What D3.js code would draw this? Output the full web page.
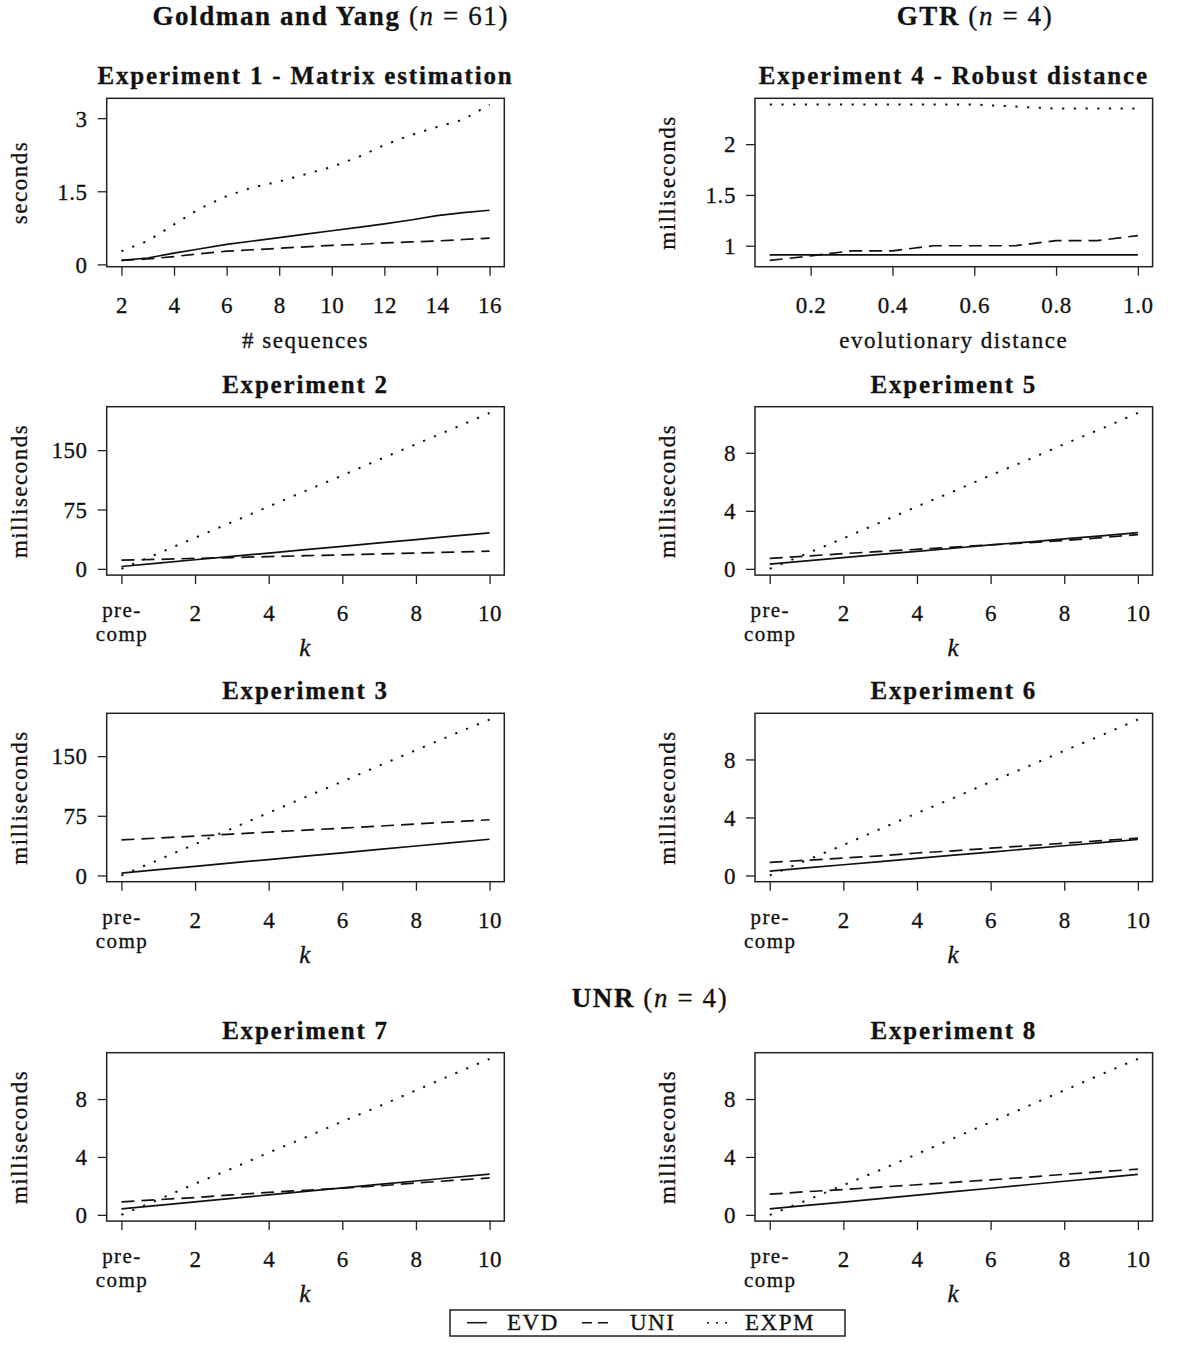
<!doctype html>
<html>
<head>
<meta charset="utf-8">
<title>Timing experiments</title>
<script src="https://cdn.jsdelivr.net/npm/d3@7"></script>
<style>
  body { margin: 0; background: #fff; }
  svg text { font-family: "Liberation Serif", "Times New Roman", serif; fill: #111; stroke: #111; stroke-width: 0.3px; }
</style>
</head>
<body>
<svg id="chart" width="1200" height="1349"></svg>
<script>
// ---- data ----
const seqCounts = [2, 3, 4, 5, 6, 7, 8, 9, 10, 11, 12, 13, 14, 15, 16];
const exp1Evd  = [0.08, 0.13, 0.23, 0.32, 0.41, 0.48, 0.55, 0.62, 0.69, 0.76, 0.83, 0.91, 1.0, 1.06, 1.11];
const exp1Uni  = [0.08, 0.11, 0.16, 0.22, 0.27, 0.30, 0.33, 0.36, 0.39, 0.41, 0.44, 0.46, 0.48, 0.51, 0.54];
const exp1Expm = [0.27, 0.48, 0.82, 1.15, 1.40, 1.58, 1.70, 1.85, 2.0, 2.2, 2.45, 2.65, 2.82, 2.97, 3.28];

const distances = [0.1, 0.2, 0.3, 0.4, 0.5, 0.6, 0.7, 0.8, 0.9, 1.0];
const exp4Evd  = [0.91, 0.91, 0.91, 0.91, 0.91, 0.91, 0.91, 0.91, 0.91, 0.91];
const exp4Uni  = [0.855, 0.90, 0.95, 0.95, 1.0, 1.0, 1.0, 1.05, 1.05, 1.10];
const exp4Expm = [2.39, 2.39, 2.39, 2.39, 2.39, 2.39, 2.37, 2.35, 2.35, 2.35];

// k = 0 is the pre-computation step
const kSteps = [0, 1, 2, 3, 4, 5, 6, 7, 8, 9, 10];
const exp2Evd  = [3, 7.3, 11.5, 15.8, 20, 24.3, 28.5, 32.8, 37, 41.3, 45.5];
const exp2Uni  = [11, 12, 13.2, 14.3, 15.5, 16.6, 17.7, 18.9, 20, 21.2, 22.3];
const exp2Expm = [0, 19.5, 39.3, 59, 78.8, 98.5, 118, 138, 157.5, 177, 197];

const exp3Evd  = [3, 7.3, 11.5, 15.8, 20, 24.3, 28.5, 32.8, 37, 41.3, 45.5];
const exp3Uni  = [44.7, 47, 49.5, 52, 54.5, 57, 59.5, 62, 64.8, 67.4, 70];
const exp3Expm = [0, 19.5, 39.3, 59, 78.8, 98.5, 118, 138, 157.5, 177, 196];

const exp5Evd  = [0.32, 0.55, 0.77, 1.0, 1.2, 1.42, 1.65, 1.85, 2.07, 2.28, 2.5];
const exp5Uni  = [0.72, 0.88, 1.05, 1.2, 1.35, 1.5, 1.65, 1.8, 1.95, 2.15, 2.36];
const exp5Expm = [0, 1.05, 2.1, 3.2, 4.3, 5.35, 6.45, 7.5, 8.6, 9.65, 10.75];

const exp6Evd  = [0.3, 0.52, 0.74, 0.96, 1.18, 1.4, 1.61, 1.83, 2.05, 2.27, 2.48];
const exp6Uni  = [0.9, 1.05, 1.2, 1.35, 1.55, 1.7, 1.88, 2.05, 2.22, 2.4, 2.57];
const exp6Expm = [0, 1.05, 2.1, 3.2, 4.3, 5.35, 6.45, 7.5, 8.6, 9.65, 10.75];

const exp7Evd  = [0.42, 0.66, 0.9, 1.14, 1.38, 1.62, 1.86, 2.1, 2.34, 2.58, 2.82];
const exp7Uni  = [0.9, 1.05, 1.2, 1.38, 1.55, 1.7, 1.85, 2.0, 2.2, 2.38, 2.55];
const exp7Expm = [0, 1.05, 2.15, 3.2, 4.3, 5.35, 6.45, 7.5, 8.6, 9.7, 10.77];

const exp8Evd  = [0.42, 0.65, 0.88, 1.12, 1.36, 1.6, 1.84, 2.08, 2.32, 2.56, 2.8];
const exp8Uni  = [1.43, 1.6, 1.75, 1.92, 2.08, 2.25, 2.42, 2.6, 2.8, 2.98, 3.16];
const exp8Expm = [0, 1.0, 2.05, 3.1, 4.2, 5.3, 6.4, 7.5, 8.6, 9.7, 10.77];

// tick labels
const exp1XTicks = [2, 4, 6, 8, 10, 12, 14, 16];
const exp1YTicks = [0, 1.5, 3];
const exp4XTicks = [0.2, 0.4, 0.6, 0.8, 1.0];
const exp4YTicks = [1, 1.5, 2];
const kTicks = [0, 2, 4, 6, 8, 10];
const bigMsTicks = [0, 75, 150];
const smallMsTicks = [0, 4, 8];

const seriesNames = ["EVD", "UNI", "EXPM"];

// ---- layout ----
const colX = [106.7, 755];
const rowY = [98.3, 406.7, 713.3, 1052.7];
const W = 397.6, H = 168.4;
const dashes = { EVD: null, UNI: "13,7", EXPM: "2.2,9.5" };
const widths = { EVD: 1.7, UNI: 1.7, EXPM: 2 };

const panels = [
  { title: "Experiment 1 - Matrix estimation", col: 0, row: 0, x: seqCounts, ys: [exp1Evd, exp1Uni, exp1Expm],
    xTicks: exp1XTicks, yTicks: exp1YTicks, xLabel: "# sequences", yLabel: "seconds", xFmt: d => d },
  { title: "Experiment 4 - Robust distance", col: 1, row: 0, x: distances, ys: [exp4Evd, exp4Uni, exp4Expm],
    xTicks: exp4XTicks, yTicks: exp4YTicks, xLabel: "evolutionary distance", yLabel: "milliseconds", xFmt: d3.format(".1f") },
  { title: "Experiment 2", col: 0, row: 1, x: kSteps, ys: [exp2Evd, exp2Uni, exp2Expm],
    xTicks: kTicks, yTicks: bigMsTicks, xLabel: "k", yLabel: "milliseconds" },
  { title: "Experiment 5", col: 1, row: 1, x: kSteps, ys: [exp5Evd, exp5Uni, exp5Expm],
    xTicks: kTicks, yTicks: smallMsTicks, xLabel: "k", yLabel: "milliseconds" },
  { title: "Experiment 3", col: 0, row: 2, x: kSteps, ys: [exp3Evd, exp3Uni, exp3Expm],
    xTicks: kTicks, yTicks: bigMsTicks, xLabel: "k", yLabel: "milliseconds" },
  { title: "Experiment 6", col: 1, row: 2, x: kSteps, ys: [exp6Evd, exp6Uni, exp6Expm],
    xTicks: kTicks, yTicks: smallMsTicks, xLabel: "k", yLabel: "milliseconds" },
  { title: "Experiment 7", col: 0, row: 3, x: kSteps, ys: [exp7Evd, exp7Uni, exp7Expm],
    xTicks: kTicks, yTicks: smallMsTicks, xLabel: "k", yLabel: "milliseconds" },
  { title: "Experiment 8", col: 1, row: 3, x: kSteps, ys: [exp8Evd, exp8Uni, exp8Expm],
    xTicks: kTicks, yTicks: smallMsTicks, xLabel: "k", yLabel: "milliseconds" }
];

const svg = d3.select("#chart");

// R style: data range plus 4% on each side
function pad(ext) {
  const r = ext[1] - ext[0];
  return [ext[0] - r * 0.04, ext[1] + r * 0.04];
}

panels.forEach(p => {
  const g = svg.append("g").attr("transform", `translate(${colX[p.col]},${rowY[p.row]})`);
  const x = d3.scaleLinear().domain(pad(d3.extent(p.x))).range([0, W]);
  const y = d3.scaleLinear().domain(pad(d3.extent(p.ys.flat()))).range([H, 0]);

  // y axis
  const ya = g.append("g")
      .call(d3.axisLeft(y).tickValues(p.yTicks).tickSize(9).tickPadding(10).tickFormat(d => String(d)));
  ya.select(".domain").remove();
  ya.attr("font-size", 23).attr("font-family", null).attr("color", "#222");
  ya.selectAll("line").attr("stroke-width", 1.3);
  ya.selectAll("text").attr("dy", "0.34em").attr("letter-spacing", 0.6);

  // x axis
  const xa = g.append("g").attr("transform", `translate(0,${H})`)
      .call(d3.axisBottom(x).tickValues(p.xTicks).tickSize(9).tickFormat(p.xFmt || (d => d)));
  xa.select(".domain").remove();
  xa.attr("font-size", 23).attr("font-family", null).attr("color", "#222");
  xa.selectAll("line").attr("stroke-width", 1.3);
  xa.selectAll("text").attr("y", 46).attr("dy", null).attr("letter-spacing", 0.6);
  if (p.x === kSteps) {
    // k = 0 is labelled "pre-comp" on two lines
    const t0 = xa.selectAll(".tick").filter(d => d === 0).select("text");
    t0.text(null).attr("letter-spacing", 1.4).attr("font-size", 21);
    t0.append("tspan").attr("x", 0).attr("y", 42).text("pre-");
    t0.append("tspan").attr("x", 0).attr("y", 66).text("comp");
  }

  // series
  p.ys.forEach((vals, i) => {
    const line = d3.line().x((d, j) => x(p.x[j])).y(d => y(d));
    const name = seriesNames[i];
    g.append("path")
      .attr("d", line(vals))
      .attr("fill", "none")
      .attr("stroke", "#111")
      .attr("stroke-width", widths[name])
      .attr("stroke-dasharray", dashes[name]);
  });

  // box
  g.append("rect").attr("width", W).attr("height", H)
    .attr("fill", "none").attr("stroke", "#222").attr("stroke-width", 1.5);

  // titles
  g.append("text").attr("x", W / 2).attr("y", -14)
    .attr("text-anchor", "middle").attr("font-weight", "bold")
    .attr("font-size", 25).attr("letter-spacing", 1.8)
    .text(p.title);

  g.append("text")
    .attr("transform", `translate(-80,${H / 2}) rotate(-90)`)
    .attr("text-anchor", "middle").attr("font-size", 23).attr("letter-spacing", 1.5)
    .text(p.yLabel);

  const xl = g.append("text").attr("x", W / 2).attr("y", H + 81)
    .attr("text-anchor", "middle").attr("font-size", 23).attr("letter-spacing", 1.5)
    .text(p.xLabel);
  if (p.xLabel === "k") xl.attr("font-style", "italic").attr("font-size", 25);
});

// group headers
const headers = [
  { x: 330.7, y: 25, name: "Goldman and Yang", n: "61" },
  { x: 975, y: 25, name: "GTR", n: "4" },
  { x: 650, y: 1006.7, name: "UNR", n: "4" }
];
headers.forEach(h => {
  const t = svg.append("text").attr("x", h.x).attr("y", h.y)
    .attr("text-anchor", "middle").attr("font-size", 27).attr("letter-spacing", 1.6);
  t.append("tspan").attr("font-weight", "bold").text(h.name);
  t.append("tspan").text(" (");
  t.append("tspan").attr("font-style", "italic").text("n");
  t.append("tspan").text(" = " + h.n + ")");
});

// legend
const legend = svg.append("g").attr("transform", "translate(450,1310)");
legend.append("rect").attr("width", 395).attr("height", 26)
  .attr("fill", "#fff").attr("stroke", "#222").attr("stroke-width", 1.5);
const legendItems = [
  { sx: 17, len: 20, tx: 57 },
  { sx: 132, len: 30, tx: 180 },
  { sx: 257, len: 24, tx: 295 }
];
seriesNames.forEach((name, i) => {
  const it = legendItems[i];
  legend.append("line")
    .attr("x1", it.sx).attr("x2", it.sx + it.len).attr("y1", 12.7).attr("y2", 12.7)
    .attr("stroke", "#111").attr("stroke-width", 1.5)
    .attr("stroke-dasharray", name === "UNI" ? "10,6" : name === "EXPM" ? "2,7" : null);
  legend.append("text").attr("x", it.tx).attr("y", 20)
    .attr("font-size", 23).attr("letter-spacing", 1.5).text(name);
});
</script>
</body>
</html>
